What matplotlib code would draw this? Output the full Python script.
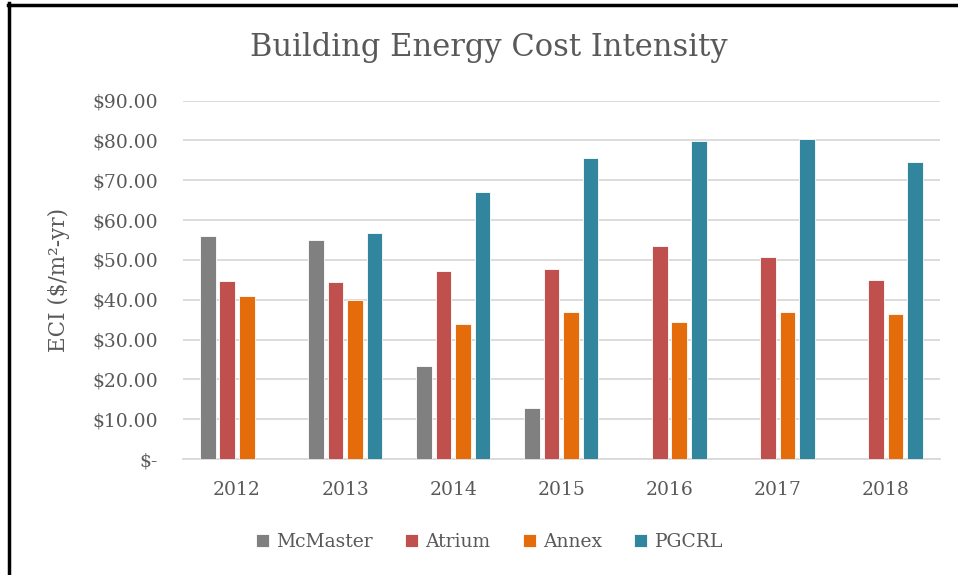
import matplotlib
matplotlib.use("Agg")
import matplotlib.pyplot as plt
import numpy as np
from matplotlib.lines import Line2D

years = ["2012", "2013", "2014", "2015", "2016", "2017", "2018"]
mcmaster = [56.1, 54.9, 23.4, 12.8, np.nan, np.nan, np.nan]
atrium = [44.7, 44.4, 47.3, 47.6, 53.4, 50.7, 44.9]
annex = [41.0, 40.0, 33.9, 36.9, 34.4, 36.9, 36.4]
pgcrl = [np.nan, 56.8, 67.1, 75.6, 79.9, 80.3, 74.7]
series_names = ["McMaster", "Atrium", "Annex", "PGCRL"]
colors = ["#808080", "#C0504D", "#E46C0A", "#31859C"]
yticks = [0, 10, 20, 30, 40, 50, 60, 70, 80, 90]
ytick_labels = ["$-", "$10.00", "$20.00", "$30.00", "$40.00", "$50.00",
                "$60.00", "$70.00", "$80.00", "$90.00"]

txt = "#595959"
plt.rcParams['font.family'] = ['DejaVu Serif']

fig = plt.figure(figsize=(9.58, 5.75), dpi=100)
ax = fig.add_axes([0.191, 0.2017, 0.790, 0.6233])

x = np.arange(len(years))
step = 0.18
width = 0.145
data = [mcmaster, atrium, annex, pgcrl]
for i, (vals, c, name) in enumerate(zip(data, colors, series_names)):
    ax.bar(x + (i - 1.5) * step, vals, width=width, color=c, label=name,
           edgecolor="white", linewidth=0.6, zorder=3)

ax.set_xlim(-0.5, len(years) - 0.5)
ax.set_ylim(0, 90)
ax.set_yticks(yticks)
ax.set_yticklabels(ytick_labels, fontsize=13.5, color=txt)
ax.set_xticks(x)
ax.set_xticklabels(years, fontsize=13.5, color=txt)
ax.tick_params(axis='both', length=0)
ax.tick_params(axis='y', pad=18)
ax.tick_params(axis='x', pad=16)
ax.grid(axis='y', color="#D9D9D9", linewidth=1.3, zorder=0)
for s in ["top", "right", "left"]:
    ax.spines[s].set_visible(False)
ax.spines["bottom"].set_color("#D9D9D9")
ax.spines["bottom"].set_linewidth(1.3)

ax.set_ylabel("ECI ($/m²-yr)", fontsize=15.5, color=txt, labelpad=16)
fig.text(0.51, 0.918, "Building Energy Cost Intensity", fontsize=22,
         color=txt, ha="center", va="center")

leg = fig.legend(loc="center", bbox_to_anchor=(0.511, 0.058), ncol=4,
                 frameon=False, fontsize=13.5, handlelength=0.7,
                 handleheight=0.7, handletextpad=0.4, columnspacing=1.7)
for t in leg.get_texts():
    t.set_color(txt)

fig.add_artist(Line2D([0.009, 0.009], [0, 0.994], transform=fig.transFigure,
                      color="black", linewidth=2.5))
fig.add_artist(Line2D([0.008, 1.0], [0.992, 0.992], transform=fig.transFigure,
                      color="black", linewidth=2.5))

fig.savefig("out.png", dpi=100)
